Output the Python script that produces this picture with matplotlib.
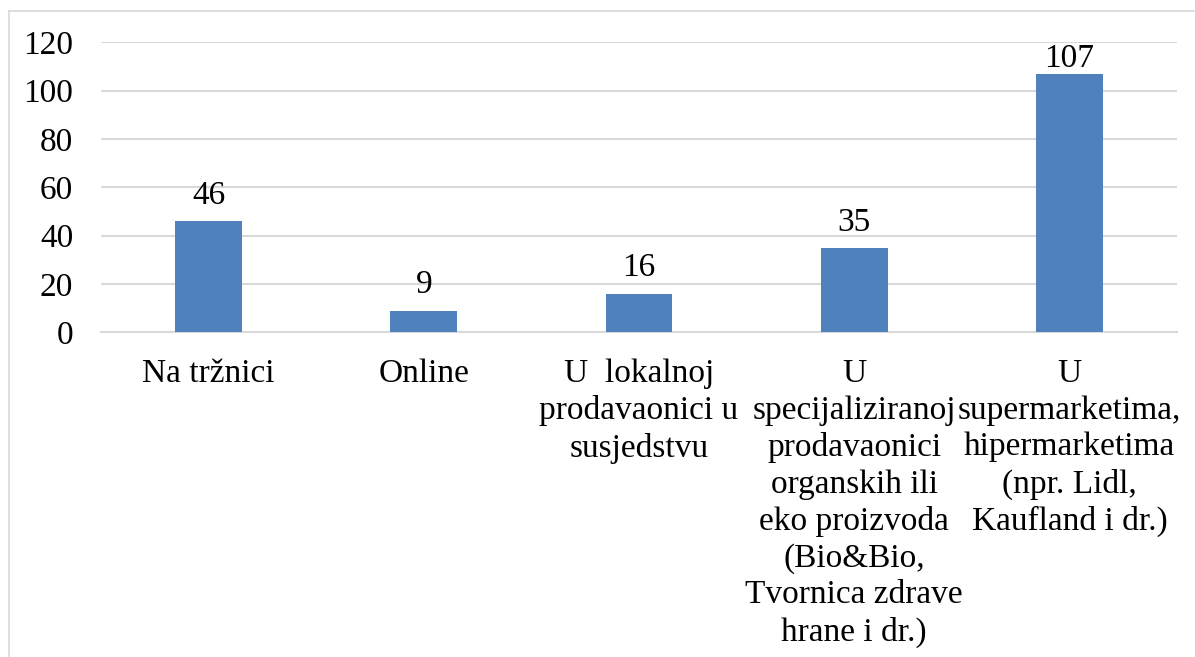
import matplotlib
matplotlib.use('Agg')
import matplotlib.pyplot as plt
from matplotlib.lines import Line2D
import numpy as np

categories = ['Na tržnici',
              'Online',
              'U  lokalnoj\nprodavaonici u\nsusjedstvu',
              'U\nspecijaliziranoj\nprodavaonici\norganskih ili\neko proizvoda\n(Bio&Bio,\nTvornica zdrave\nhrane i dr.)',
              'U\nsupermarketima,\nhipermarketima\n(npr. Lidl,\nKaufland i dr.)']
values = [46, 9, 16, 35, 107]
yticks = [0, 20, 40, 60, 80, 100, 120]

plt.rcParams['font.family'] = ['Liberation Serif', 'DejaVu Serif']
fs = 24

fig = plt.figure(figsize=(11.95, 6.57), dpi=100)
ax = fig.add_axes([101/1195, 1-332.3/657, 1076/1195, 290/657])

x = np.arange(len(categories))
ax.bar(x, values, width=0.31, color='#4F81BD', zorder=3)
for xi, v in zip(x, values):
    # labels sit a little above the bar, but stay inside the plot area
    ax.text(xi, min(v + 4.2, 107), str(v), ha='center', va='bottom', fontsize=fs, color='black')

ax.set_xlim(-0.5, len(categories) - 0.5)
ax.set_ylim(0, 120)
ax.set_yticks(yticks)
ax.set_yticklabels([str(t) for t in yticks], fontsize=fs)
ax.set_xticks(x)
ax.set_xticklabels(categories, fontsize=fs, linespacing=1.26)
ax.tick_params(axis='y', length=0, pad=20)
ax.tick_params(axis='x', length=0, pad=19)

ax.yaxis.grid(True, color='#D9D9D9', linewidth=1.5, zorder=0)
for s in ['top', 'right', 'left']:
    ax.spines[s].set_visible(False)
ax.spines['bottom'].set_color('#D9D9D9')
ax.spines['bottom'].set_linewidth(1.5)

# outer chart border (only top and left visible)
fig.add_artist(Line2D([9/1195, 9/1195], [0, 1-11/657], color='#D9D9D9', linewidth=1.2))
fig.add_artist(Line2D([9/1195, 1], [1-11/657, 1-11/657], color='#D9D9D9', linewidth=1.2))

plt.savefig('out.png', dpi=100)
plt.close('all')
